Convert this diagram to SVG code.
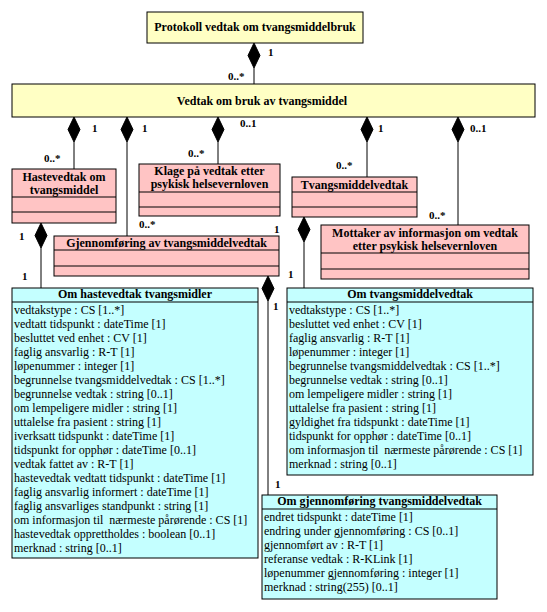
<svg xmlns="http://www.w3.org/2000/svg" width="547" height="612" viewBox="0 0 547 612">
<style>
.bg{fill:#ffffff}
.y{fill:#ffffc4;stroke:#000;stroke-width:1}
.p{fill:#ffc4c4;stroke:#000;stroke-width:1}
.c{fill:#c4ffff;stroke:#000;stroke-width:1}
.ln{stroke:#000;stroke-width:1;fill:none}
.dm{fill:#000;stroke:#000;stroke-width:1}
.t{font-family:"Liberation Serif","Times New Roman",serif;font-size:12px;font-weight:bold;text-anchor:middle;fill:#000}
.a{font-family:"Liberation Serif","Times New Roman",serif;font-size:12px;fill:#000}
.m{font-family:"Liberation Serif","Times New Roman",serif;font-size:11px;font-weight:bold;fill:#000}
</style>
<defs>
<path id="dia" d="M0,0 L6,12.5 L0,25 L-6,12.5 Z"/>
</defs>
<rect class="bg" x="0" y="0" width="547" height="612"/>

<g id="connectors">
<line class="ln" x1="254" y1="68" x2="254" y2="84"/>
<use href="#dia" class="dm" x="254" y="43"/>
<line class="ln" x1="74" y1="142" x2="74" y2="169"/>
<use href="#dia" class="dm" x="74" y="117"/>
<line class="ln" x1="127" y1="142" x2="127" y2="236"/>
<use href="#dia" class="dm" x="127" y="117"/>
<line class="ln" x1="218" y1="142" x2="218" y2="164"/>
<use href="#dia" class="dm" x="218" y="117"/>
<line class="ln" x1="367" y1="142" x2="367" y2="177"/>
<use href="#dia" class="dm" x="367" y="117"/>
<line class="ln" x1="458" y1="142" x2="458" y2="225"/>
<use href="#dia" class="dm" x="458" y="117"/>
<line class="ln" x1="41" y1="248" x2="41" y2="288"/>
<use href="#dia" class="dm" x="41" y="223"/>
<line class="ln" x1="304" y1="242" x2="304" y2="288"/>
<use href="#dia" class="dm" x="304" y="217"/>
<line class="ln" x1="268" y1="301" x2="268" y2="495"/>
<use href="#dia" class="dm" x="268" y="276"/>
<text class="m" x="268" y="56">1</text>
<text class="m" x="228" y="80">0..*</text>
<text class="m" x="92" y="132">1</text>
<text class="m" x="44" y="162">0..*</text>
<text class="m" x="142" y="132">1</text>
<text class="m" x="139" y="228">0..*</text>
<text class="m" x="240" y="127">0..1</text>
<text class="m" x="188" y="157">0..*</text>
<text class="m" x="378" y="132">1</text>
<text class="m" x="336" y="169">0..*</text>
<text class="m" x="470" y="132">0..1</text>
<text class="m" x="429" y="219">0..*</text>
<text class="m" x="19" y="240">1</text>
<text class="m" x="22" y="280">1</text>
<text class="m" x="274" y="233">1</text>
<text class="m" x="288" y="278">1</text>
<text class="m" x="273" y="310">1</text>
<text class="m" x="275" y="488">1</text>
</g>

<g id="protokoll">
<rect class="y" x="147" y="12" width="216" height="31"/>
<text class="t" x="255" y="31">Protokoll vedtak om tvangsmiddelbruk</text>
</g>

<g id="vedtak">
<rect class="y" x="12" y="84" width="523" height="33"/>
<text class="t" x="262" y="105">Vedtak om bruk av tvangsmiddel</text>
</g>

<g id="hastevedtak">
<rect class="p" x="12" y="169" width="104" height="54"/>
<line class="ln" x1="12" y1="197" x2="116" y2="197"/>
<line class="ln" x1="12" y1="212" x2="116" y2="212"/>
<text class="t" x="64" y="181">Hastevedtak om</text>
<text class="t" x="64" y="194">tvangsmiddel</text>
</g>

<g id="klage">
<rect class="p" x="139" y="164" width="141" height="52"/>
<line class="ln" x1="139" y1="192" x2="280" y2="192"/>
<line class="ln" x1="139" y1="207" x2="280" y2="207"/>
<text class="t" x="209.5" y="175">Klage på vedtak etter</text>
<text class="t" x="209.5" y="188">psykisk helsevernloven</text>
</g>

<g id="tvangsmiddelvedtak">
<rect class="p" x="292" y="177" width="125" height="40"/>
<line class="ln" x1="292" y1="192" x2="417" y2="192"/>
<line class="ln" x1="292" y1="207" x2="417" y2="207"/>
<text class="t" x="354.5" y="189">Tvangsmiddelvedtak</text>
</g>

<g id="mottaker">
<rect class="p" x="321" y="225" width="208" height="54"/>
<line class="ln" x1="321" y1="253" x2="529" y2="253"/>
<line class="ln" x1="321" y1="269" x2="529" y2="269"/>
<text class="t" x="425" y="237">Mottaker av informasjon om vedtak</text>
<text class="t" x="425" y="250">etter psykisk helsevernloven</text>
</g>

<g id="gjennomforing">
<rect class="p" x="54" y="236" width="225" height="40"/>
<line class="ln" x1="54" y1="250" x2="279" y2="250"/>
<line class="ln" x1="54" y1="266" x2="279" y2="266"/>
<text class="t" x="166.5" y="247">Gjennomføring av tvangsmiddelvedtak</text>
</g>

<g id="om-hastevedtak">
<rect class="c" x="12" y="288" width="246" height="270"/>
<line class="ln" x1="12" y1="302" x2="258" y2="302"/>
<text class="t" x="135" y="298">Om hastevedtak tvangsmidler</text>
<text class="a" x="14" y="314">vedtakstype : CS [1..*]</text>
<text class="a" x="14" y="328">vedtatt tidspunkt : dateTime [1]</text>
<text class="a" x="14" y="342">besluttet ved enhet : CV [1]</text>
<text class="a" x="14" y="356">faglig ansvarlig : R-T [1]</text>
<text class="a" x="14" y="370">løpenummer : integer [1]</text>
<text class="a" x="14" y="384">begrunnelse tvangsmiddelvedtak : CS [1..*]</text>
<text class="a" x="14" y="398">begrunnelse vedtak : string [0..1]</text>
<text class="a" x="14" y="412">om lempeligere midler : string [1]</text>
<text class="a" x="14" y="426">uttalelse fra pasient : string [1]</text>
<text class="a" x="14" y="440">iverksatt tidspunkt : dateTime [1]</text>
<text class="a" x="14" y="454">tidspunkt for opphør : dateTime [0..1]</text>
<text class="a" x="14" y="468">vedtak fattet av : R-T [1]</text>
<text class="a" x="14" y="482">hastevedtak vedtatt tidspunkt : dateTime [1]</text>
<text class="a" x="14" y="496">faglig ansvarlig informert : dateTime [1]</text>
<text class="a" x="14" y="510">faglig ansvarliges standpunkt : string [1]</text>
<text class="a" x="14" y="524" xml:space="preserve">om informasjon til  nærmeste pårørende : CS [1]</text>
<text class="a" x="14" y="538">hastevedtak opprettholdes : boolean [0..1]</text>
<text class="a" x="14" y="552">merknad : string [0..1]</text>
</g>

<g id="om-tvangsmiddelvedtak">
<rect class="c" x="287" y="288" width="246" height="187"/>
<line class="ln" x1="287" y1="302" x2="533" y2="302"/>
<text class="t" x="410" y="298">Om tvangsmiddelvedtak</text>
<text class="a" x="289" y="314">vedtakstype : CS [1..*]</text>
<text class="a" x="289" y="328">besluttet ved enhet : CV [1]</text>
<text class="a" x="289" y="342">faglig ansvarlig : R-T [1]</text>
<text class="a" x="289" y="356">løpenummer : integer [1]</text>
<text class="a" x="289" y="370">begrunnelse tvangsmiddelvedtak : CS [1..*]</text>
<text class="a" x="289" y="384">begrunnelse vedtak : string [0..1]</text>
<text class="a" x="289" y="398">om lempeligere midler : string [1]</text>
<text class="a" x="289" y="412">uttalelse fra pasient : string [1]</text>
<text class="a" x="289" y="426">gyldighet fra tidspunkt : dateTime [1]</text>
<text class="a" x="289" y="440">tidspunkt for opphør : dateTime [0..1]</text>
<text class="a" x="289" y="454" xml:space="preserve">om informasjon til  nærmeste pårørende : CS [1]</text>
<text class="a" x="289" y="468">merknad : string [0..1]</text>
</g>

<g id="om-gjennomforing">
<rect class="c" x="262" y="495" width="235" height="104"/>
<line class="ln" x1="262" y1="509" x2="497" y2="509"/>
<text class="t" x="379.5" y="505">Om gjennomføring tvangsmiddelvedtak</text>
<text class="a" x="264" y="521">endret tidspunkt : dateTime [1]</text>
<text class="a" x="264" y="535">endring under gjennomføring : CS [0..1]</text>
<text class="a" x="264" y="549">gjennomført av : R-T [1]</text>
<text class="a" x="264" y="563">referanse vedtak : R-KLink [1]</text>
<text class="a" x="264" y="577">løpenummer gjennomføring : integer [1]</text>
<text class="a" x="264" y="591">merknad : string(255) [0..1]</text>
</g>
</svg>
